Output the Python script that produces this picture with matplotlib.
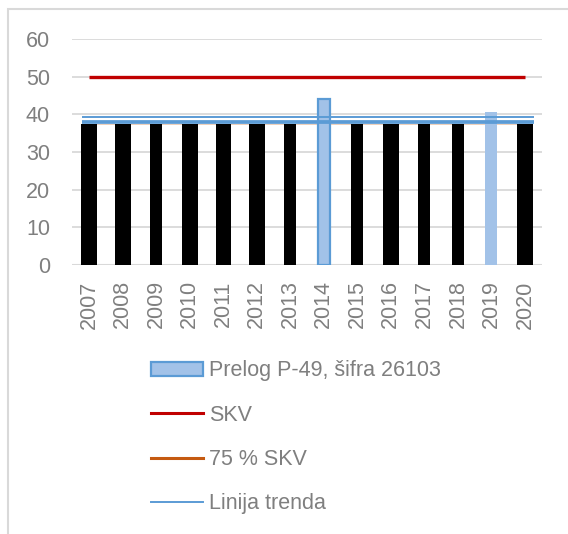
import matplotlib
matplotlib.use('Agg')
import matplotlib.pyplot as plt
from matplotlib.patches import Rectangle, Patch
from matplotlib.lines import Line2D

plt.rcParams['font.family'] = ['Liberation Sans', 'DejaVu Sans']

# podaci
years = ['2007', '2008', '2009', '2010', '2011', '2012', '2013',
         '2014', '2015', '2016', '2017', '2018', '2019', '2020']
prelog = [37.5, 37.5, 37.5, 37.5, 37.5, 37.5, 37.5,
          44.2, 37.5, 37.5, 37.5, 37.5, 40.5, 37.5]
masked = [True, True, True, True, True, True, True,
          False, True, True, True, True, False, True]
skv = 50
skv75 = 37.5
trend = 39.3
trend_band = 38.0

# izgled
bar_w = [0.48, 0.48, 0.36, 0.48, 0.45, 0.48, 0.36,
         0.35, 0.36, 0.48, 0.36, 0.36, 0.36, 0.48]
grey_txt = '#7f7f7f'
grid_c = '#d9d9d9'
red = '#c00000'
orange = '#c55a11'
blue = '#5b9bd5'
light_blue = '#a2c2e8'
fs = 15.5

fig = plt.figure(figsize=(5.68, 5.34), dpi=100)
fig.patches.append(Rectangle((8 / 568, -0.2), 2.0, 1.2 - 9 / 534,
                             transform=fig.transFigure, fill=False,
                             edgecolor=grid_c, linewidth=1.5))

ax = fig.add_axes([72.3 / 568, 1 - 265 / 534, (541.7 - 72.3) / 568, 226 / 534])
x = list(range(len(years)))

for i in x:
    if masked[i]:
        ax.bar(i, prelog[i], width=bar_w[i], color='black', zorder=3)
    elif years[i] == '2014':
        ax.bar(i, prelog[i], width=bar_w[i], color=light_blue,
               edgecolor=blue, linewidth=1.6, zorder=3)
    else:
        ax.bar(i, prelog[i], width=bar_w[i], color=light_blue, zorder=3)

# 75 % SKV je skriven ispod trake trenda
ax.hlines(skv75, x[0], x[-1], color=orange, linewidth=0.4, alpha=0.5, zorder=2)
ax.hlines(skv, x[0], x[-1], color=red, linewidth=2.4, zorder=4)
ax.hlines(trend_band, x[0] - 0.2, x[-1] + 0.27, color=blue, linewidth=2.7, zorder=4)
ax.hlines(trend, x[0] - 0.2, x[-1] + 0.27, color=blue, linewidth=1.4, zorder=4)

ax.set_xlim(-0.5, len(years) - 0.5)
ax.set_ylim(0, 60)
ax.set_yticks([0, 10, 20, 30, 40, 50, 60])
ax.set_xticks(x)
ax.set_xticklabels(years, rotation=90)
ax.tick_params(axis='both', length=0, labelsize=fs, colors=grey_txt)
ax.tick_params(axis='y', pad=16)
ax.tick_params(axis='x', pad=11)
ax.grid(axis='y', color=grid_c, linewidth=1.3, zorder=0)
ax.set_axisbelow(True)
for s in ax.spines.values():
    s.set_visible(False)
ax.axhline(0, color=grid_c, linewidth=2.2, zorder=2)

handles = [
    Patch(facecolor=light_blue, edgecolor=blue, linewidth=1.6),
    Line2D([], [], color=red, linewidth=2.2),
    Line2D([], [], color=orange, linewidth=2.2),
    Line2D([], [], color=blue, linewidth=1.4),
]
labels = ['Prelog P-49, šifra 26103', 'SKV', '75 % SKV', 'Linija trenda']
leg = fig.legend(handles, labels, loc='upper left',
                 bbox_to_anchor=(132 / 568, 1 - 341 / 534),
                 frameon=False, fontsize=fs, handlelength=2.4,
                 handleheight=0.6, handletextpad=0.28, labelspacing=1.08)
for t in leg.get_texts():
    t.set_color(grey_txt)

fig.savefig('out.png', dpi=100)
